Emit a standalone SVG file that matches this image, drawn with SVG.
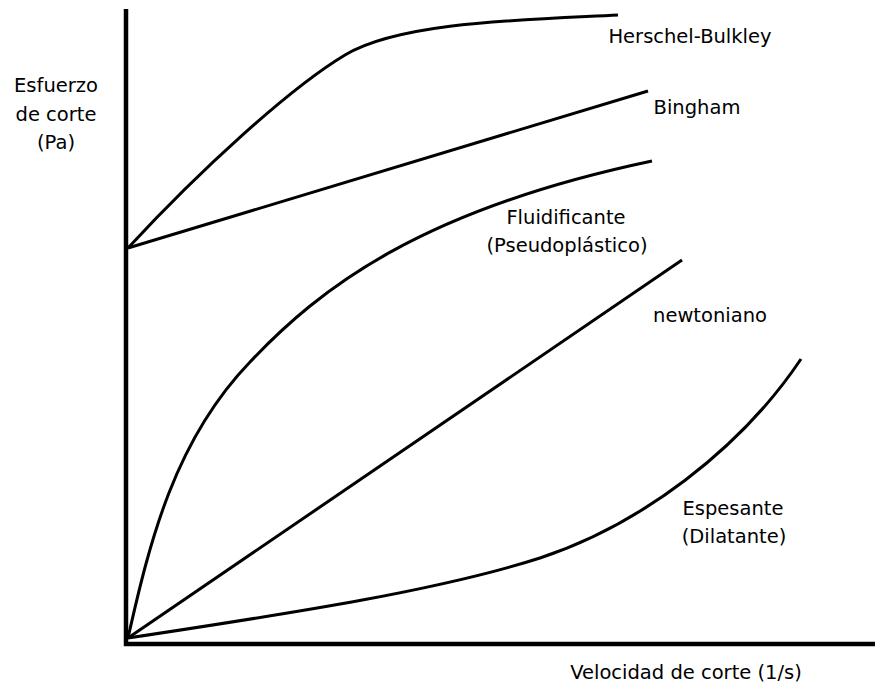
<svg xmlns="http://www.w3.org/2000/svg" width="875" height="687" viewBox="0 0 875 687">
  <style>
    .axis { stroke: #000; stroke-width: 4.5; fill: none; }
    .curve { stroke: #000; stroke-width: 3; fill: none; stroke-linecap: butt; }
    text { font-family: "DejaVu Sans", "Open Sans", sans-serif; font-size: 19.5px; fill: #000; text-anchor: middle; }
  </style>
  <rect width="875" height="687" fill="#fff"/>

  <!-- axes -->
  <g id="axes">
    <line class="axis" x1="126" y1="9" x2="126" y2="646"/>
    <line class="axis" x1="124" y1="644" x2="875" y2="644"/>
  </g>

  <!-- flow curves -->
  <g id="connectors">
    <path id="herschel-bulkley" class="curve" d="M128,248 C200,170 290,88 345,55 C400,22 520,20 618,15"/>
    <path id="bingham" class="curve" d="M128,248 L648,91"/>
    <path id="fluidificante" class="curve" d="M128,638 C150,540 175,440 250,362 C320,288 420,210 652,161"/>
    <path id="newtoniano" class="curve" d="M128,638 L682,260"/>
    <path id="espesante" class="curve" d="M128,638 C300,612 440,590 540,558 C640,525 740,450 801,359"/>
  </g>

  <!-- axis titles -->
  <g id="y-label">
    <text x="56" y="92">Esfuerzo</text>
    <text x="56" y="121">de corte</text>
    <text x="56" y="149">(Pa)</text>
  </g>
  <g id="x-label">
    <text x="686" y="679">Velocidad de corte (1/s)</text>
  </g>

  <!-- curve labels -->
  <g id="label-herschel">
    <text x="690" y="43">Herschel-Bulkley</text>
  </g>
  <g id="label-bingham">
    <text x="697" y="114">Bingham</text>
  </g>
  <g id="label-fluidificante">
    <text x="566" y="224">Fluidificante</text>
    <text x="567" y="252">(Pseudoplástico)</text>
  </g>
  <g id="label-newtoniano">
    <text x="710" y="322">newtoniano</text>
  </g>
  <g id="label-espesante">
    <text x="733" y="515">Espesante</text>
    <text x="734" y="543">(Dilatante)</text>
  </g>
</svg>
